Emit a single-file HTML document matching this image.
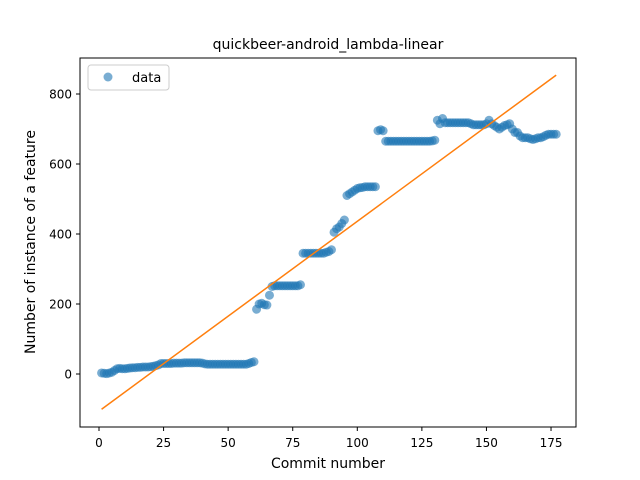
<!DOCTYPE html>
<html><head><meta charset="utf-8"><style>
body{margin:0;background:#fff}
svg{display:block;font-family:"DejaVu Sans","Liberation Sans",sans-serif}
</style></head><body>
<svg id="chart" width="640" height="480">
<rect width="640" height="480" fill="#fff"/>
<text x="328" y="49" text-anchor="middle" font-size="14">quickbeer-android_lambda-linear</text>
<g id="marks"></g>
<g id="axes"></g>
<rect x="80" y="58" width="496" height="369" fill="none" stroke="#000" stroke-width="1"/>
<text x="328" y="468" text-anchor="middle" font-size="14">Commit number</text>
<text transform="translate(35,242) rotate(-90)" text-anchor="middle" font-size="14">Number of instance of a feature</text>
<g>
<rect x="88" y="65" width="81" height="25" rx="3" fill="#fff" stroke="#ccc"/>
<circle cx="108" cy="77" r="4.5" fill="#1f77b4" fill-opacity="0.6"/>
<text x="132" y="82" font-size="13">data</text>
</g>
</svg>
<script>
const values = [3,2,1,3,5,10,15,16,15,15,
16,17,18,18,19,19,20,20,20,21,
22,24,26,30,30,30,30,30,31,31,
31,31,32,32,32,32,32,32,32,31,
29,28,28,28,28,28,28,28,28,28,
28,28,28,28,28,28,28,30,33,35,
185,200,202,198,197,225,250,252,252,252,
252,252,252,252,252,252,252,255,345,345,
345,345,345,345,345,345,345,348,350,355,
405,415,420,430,440,510,515,520,525,530,
532,533,535,535,535,535,535,695,698,695,
665,665,665,665,665,665,665,665,665,665,
665,665,665,665,665,665,665,665,666,668,
725,715,730,718,718,718,718,718,718,718,
718,718,718,715,712,712,712,712,712,715,
725,715,710,705,700,705,710,712,715,700,
690,690,680,675,675,675,672,670,672,675,
675,678,682,685,685,685,685];
const xTicks = [0,25,50,75,100,125,150,175];
const yTicks = [0,200,400,600,800];
const NS="http://www.w3.org/2000/svg";
const xs = values.map((v,i)=>i+1);
function sx(x){return 99 + x*2.583;}
function sy(y){return 374 - y*0.35;}
const marks=document.getElementById('marks'), axes=document.getElementById('axes');
function mk(t,a,p){const e=document.createElementNS(NS,t);for(const k in a)e.setAttribute(k,a[k]);p.appendChild(e);return e;}
values.forEach((v,i)=>{
 const c=mk('circle',{cx:sx(xs[i]),cy:sy(v),r:4.5,fill:'#1f77b4','fill-opacity':0.6},marks);
 
 
});
const n=values.length;let mx=0,my=0;xs.forEach((x,i)=>{mx+=x;my+=values[i];});mx/=n;my/=n;
let sxy=0,sxx=0;xs.forEach((x,i)=>{sxy+=(x-mx)*(values[i]-my);sxx+=(x-mx)*(x-mx);});
const b=sxy/sxx,a=my-b*mx;
const x0=xs[0],x1=xs[n-1];
const ln=mk('line',{x1:sx(x0),y1:sy(a+b*x0),x2:sx(x1),y2:sy(a+b*x1),stroke:'#ff7f0e','stroke-width':1.5},marks);


xTicks.forEach(t=>{
 const l=mk('line',{x1:sx(t),x2:sx(t),y1:427,y2:431,stroke:'#000'},axes);
 
 
 const tx=mk('text',{x:sx(t),y:447,'text-anchor':'middle','font-size':12},axes);tx.textContent=t;
 
 
});
yTicks.forEach(t=>{
 const l=mk('line',{x1:76,x2:80,y1:sy(t),y2:sy(t),stroke:'#000'},axes);
 
 
 const tx=mk('text',{x:72,y:sy(t)+4.5,'text-anchor':'end','font-size':12},axes);tx.textContent=t;
 
 
});
</script>
</body></html>
